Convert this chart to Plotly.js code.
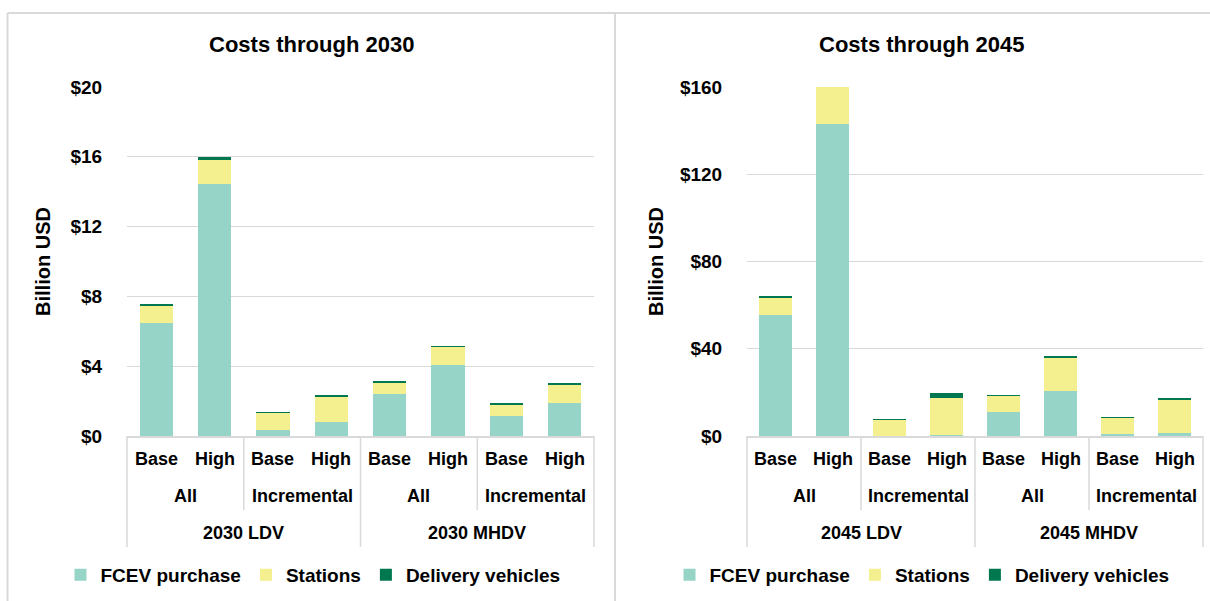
<!DOCTYPE html>
<html>
<head>
<meta charset="utf-8">
<script src="https://cdn.plot.ly/plotly-3.0.1.min.js"></script>
<style>
  html, body { margin: 0; padding: 0; background: #ffffff; }
  #chart { width: 1210px; height: 601px; }
</style>
</head>
<body>
<div id="chart"></div>
<script>
// ---------- data ----------
const scenarios = ["Base", "High"];
const costScopes = ["All", "Incremental"];
const groups2030 = ["2030 LDV", "2030 MHDV"];
const groups2045 = ["2045 LDV", "2045 MHDV"];
const seriesNames = ["FCEV purchase", "Stations", "Delivery vehicles"];

const fcev2030     = [6.5, 14.45, 0.35, 0.80, 2.40, 4.05, 1.12, 1.90];
const stations2030 = [0.95, 1.35, 0.98, 1.45, 0.65, 1.05, 0.67, 1.05];
const delivery2030 = [0.09, 0.18, 0.06, 0.09, 0.08, 0.08, 0.08, 0.07];

const fcev2045     = [55.7, 143.2, 0.2, 0.3, 11.0, 20.8, 1.0, 1.5];
const stations2045 = [7.5, 17.5, 7.0, 17.1, 7.2, 14.8, 7.1, 15.1];
const delivery2045 = [0.9, 1.5, 0.6, 2.2, 0.6, 0.9, 0.6, 0.8];

const yTicks2030 = [0, 4, 8, 12, 16, 20];
const yTicks2045 = [0, 40, 80, 120, 160];

// ---------- styling ----------
const W = 1210, H = 601;
const FONT = "Liberation Sans, Arial, sans-serif";
const colors = ["#96D4C7", "#F4EF8F", "#00784F"];
const gridColor = "#D9D9D9";
const px = x => x / W;
const py = y => (H - y) / H;

const dom1 = [px(127), px(594)];
const dom2 = [px(747), px(1203)];
const yDom = [py(436), py(87)];

function cats(groups) {
  const out = [];
  groups.forEach(g => costScopes.forEach(s => scenarios.forEach(c => out.push(g + " | " + s + " | " + c))));
  return out;
}
const cats2030 = cats(groups2030);
const cats2045 = cats(groups2045);

const traces = [];
[[fcev2030, stations2030, delivery2030], [fcev2045, stations2045, delivery2045]].forEach((set, p) => {
  set.forEach((vals, k) => {
    traces.push({
      type: "bar",
      name: seriesNames[k],
      x: p === 0 ? cats2030 : cats2045,
      y: vals,
      xaxis: p === 0 ? "x" : "x2",
      yaxis: p === 0 ? "y" : "y2",
      legend: p === 0 ? "legend" : "legend2",
      marker: { color: colors[k], line: { width: 0 } },
      hoverinfo: "x+y+name"
    });
  });
});

const annotations = [];
const shapes = [];

function decorate(axisRef, dom, groups) {
  const n = 8;
  for (let i = 0; i < n; i++) {
    annotations.push({ xref: axisRef, yref: "paper", x: i, y: py(459), text: scenarios[i % 2],
      showarrow: false, font: { family: FONT, size: 18, color: "#000" }, xanchor: "center", yanchor: "middle" });
  }
  for (let j = 0; j < 4; j++) {
    annotations.push({ xref: axisRef, yref: "paper", x: j * 2 + 0.5, y: py(496), text: costScopes[j % 2],
      showarrow: false, font: { family: FONT, size: 18, color: "#000" }, xanchor: "center", yanchor: "middle" });
  }
  for (let g = 0; g < 2; g++) {
    annotations.push({ xref: axisRef, yref: "paper", x: g * 4 + 1.5, y: py(533), text: groups[g],
      showarrow: false, font: { family: FONT, size: 18, color: "#000" }, xanchor: "center", yanchor: "middle" });
  }
  [0, 2, 4, 6, 8].forEach(b => {
    const xp = dom[0] + (dom[1] - dom[0]) * b / n;
    const outer = (b % 4 === 0);
    shapes.push({ type: "line", xref: "paper", yref: "paper", x0: xp, x1: xp,
      y0: py(436), y1: py(outer ? 547 : 510), line: { color: gridColor, width: 1.5 } });
  });
}
decorate("x", dom1, groups2030);
decorate("x2", dom2, groups2045);

annotations.push({ xref: "paper", yref: "paper", x: px(311.5), y: py(44), text: "Costs through 2030",
  showarrow: false, font: { family: FONT, size: 22, color: "#000" }, xanchor: "center", yanchor: "middle" });
annotations.push({ xref: "paper", yref: "paper", x: px(921), y: py(44), text: "Costs through 2045",
  showarrow: false, font: { family: FONT, size: 22, color: "#000" }, xanchor: "center", yanchor: "middle" });

shapes.push({ type: "line", xref: "paper", yref: "paper", x0: px(7.5), x1: 1, y0: py(13), y1: py(13), line: { color: gridColor, width: 2 } });
shapes.push({ type: "line", xref: "paper", yref: "paper", x0: px(7.5), x1: px(7.5), y0: py(13), y1: 0, line: { color: gridColor, width: 2 } });
shapes.push({ type: "line", xref: "paper", yref: "paper", x0: px(615), x1: px(615), y0: py(13), y1: 0, line: { color: gridColor, width: 2 } });

const boldFont = (size) => ({ family: FONT, size: size, color: "#000", weight: "bold" });

function xAxis(dom, anchor) {
  return { domain: dom, anchor: anchor, type: "category", showticklabels: false, ticks: "",
    showgrid: false, zeroline: false, showline: true, linecolor: gridColor, linewidth: 1.5,
    range: [-0.5, 7.5], fixedrange: true };
}
function yAxis(ticks, anchor, standoff) {
  return { domain: yDom, anchor: anchor, range: [ticks[0], ticks[ticks.length - 1]], tickvals: ticks,
    ticktext: ticks.map(v => "$" + v), tickfont: boldFont(19), ticks: "outside", ticklen: 20, tickcolor: "rgba(0,0,0,0)",
    showgrid: true, gridcolor: gridColor, gridwidth: 1.2, zeroline: false, showline: false,
    title: { text: "Billion USD", font: boldFont(20), standoff: standoff }, automargin: false, fixedrange: true };
}

const layout = {
  width: W, height: H,
  margin: { l: 0, r: 0, t: 0, b: 0 },
  paper_bgcolor: "#ffffff", plot_bgcolor: "#ffffff",
  barmode: "stack", bargap: 0.43,
  font: { family: FONT, color: "#000" },
  showlegend: true,
  xaxis: xAxis(dom1, "y"),
  yaxis: yAxis(yTicks2030, "x", 14),
  xaxis2: xAxis(dom2, "y2"),
  yaxis2: yAxis(yTicks2045, "x2", 10),
  legend: { orientation: "h", x: px(313), xanchor: "center", y: py(575), yanchor: "middle",
    traceorder: "normal", font: boldFont(19), bgcolor: "rgba(0,0,0,0)" },
  legend2: { orientation: "h", x: px(922), xanchor: "center", y: py(575), yanchor: "middle",
    traceorder: "normal", font: boldFont(19), bgcolor: "rgba(0,0,0,0)" },
  annotations: annotations.map(a => Object.assign(a, { font: Object.assign({ weight: "bold" }, a.font) })),
  shapes: shapes
};

Plotly.newPlot("chart", traces, layout, { displayModeBar: false, staticPlot: true });
</script>
</body>
</html>
